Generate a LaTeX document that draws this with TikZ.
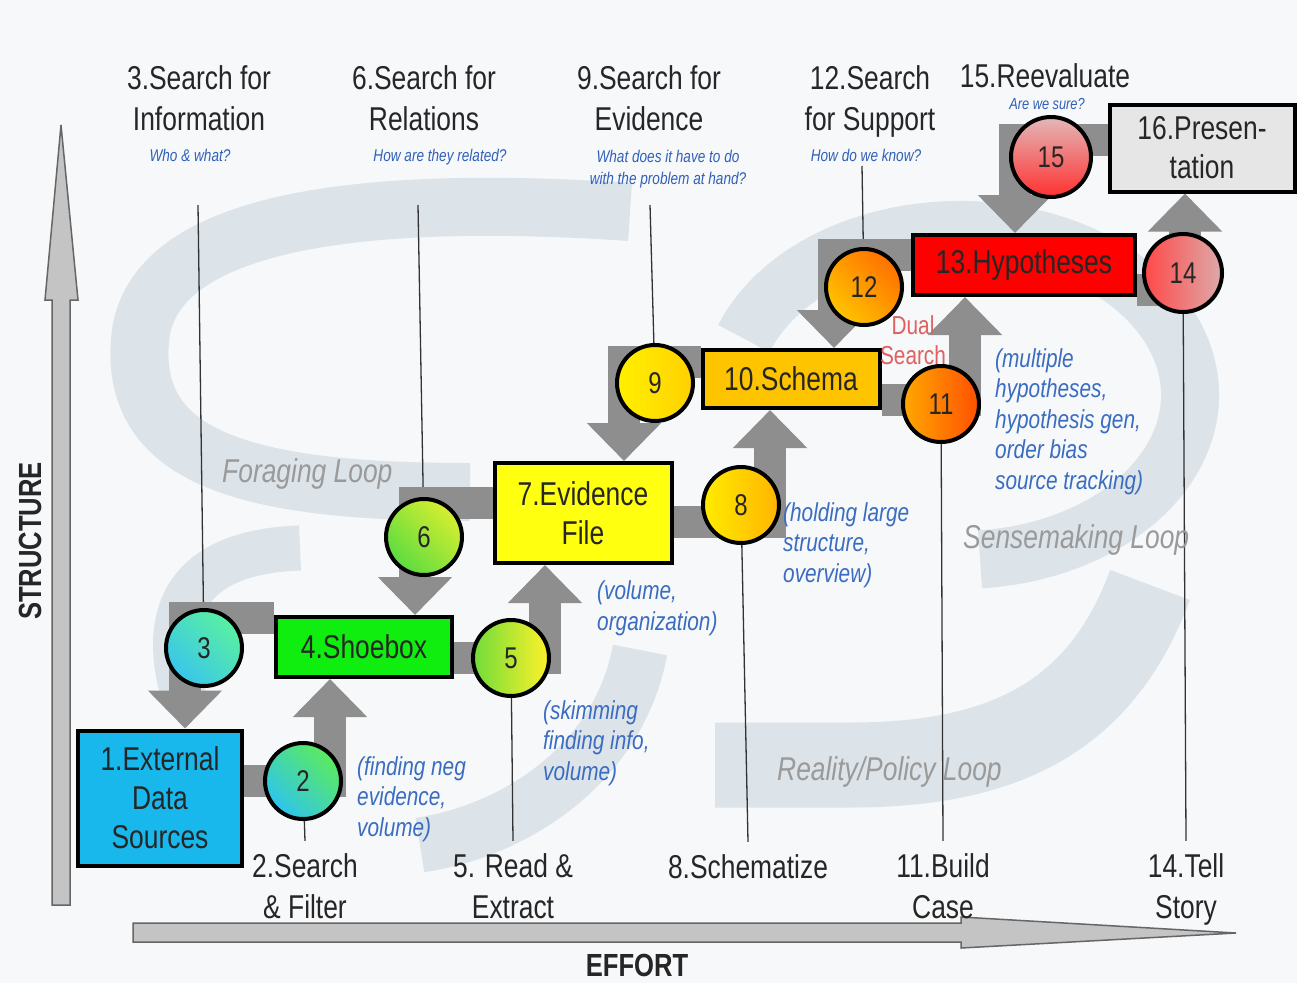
\documentclass[tikz,border=0pt]{standalone}
\usepackage{fontspec}
\setmainfont{Liberation Sans}[FakeStretch=0.8]
\usetikzlibrary{arrows.meta}
\definecolor{bgc}{HTML}{F6F8FA}
\definecolor{swirlc}{HTML}{DCE3E9}
\definecolor{flowgray}{HTML}{8E8E8E}
\definecolor{qblue}{HTML}{3060B8}
\definecolor{nblue}{HTML}{3A6CC0}
\definecolor{loopgray}{HTML}{9A9A9A}
\definecolor{arrowfill}{HTML}{C4C4C4}
\definecolor{dualred}{HTML}{E06060}
\definecolor{cA}{HTML}{18B8EC}
\definecolor{cB}{HTML}{10EE10}
\definecolor{cC}{HTML}{FFFF10}
\definecolor{cD}{HTML}{FFC400}
\definecolor{cE}{HTML}{FF0000}
\definecolor{cF}{HTML}{E6E6E6}
\definecolor{k2t}{HTML}{5CEB5C}\definecolor{k2b}{HTML}{2EC4EE}
\definecolor{k3t}{HTML}{5AF0A0}\definecolor{k3b}{HTML}{38C6EC}
\definecolor{k5t}{HTML}{FFF22A}\definecolor{k5b}{HTML}{70DC3A}
\definecolor{k6t}{HTML}{D8EE30}\definecolor{k6b}{HTML}{5ADC40}
\definecolor{k8t}{HTML}{FFB400}\definecolor{k8b}{HTML}{FFEC00}
\definecolor{k9t}{HTML}{FFD000}\definecolor{k9b}{HTML}{FFF000}
\definecolor{kBt}{HTML}{FF5000}\definecolor{kBb}{HTML}{FFA800}
\definecolor{kCt}{HTML}{FF7000}\definecolor{kCb}{HTML}{FFC400}
\definecolor{kEt}{HTML}{DDAAAA}\definecolor{kEb}{HTML}{FF4848}
\definecolor{kFt}{HTML}{E4B8B8}\definecolor{kFb}{HTML}{FF3030}
\pgfdeclarelayer{bg}
\pgfdeclarelayer{lines}
\pgfdeclarelayer{flows}
\pgfsetlayers{bg,lines,flows,main}
\begin{document}
\begin{tikzpicture}[x=1pt,y=-1pt,
  lbl/.style={font=\fontsize{33}{41}\selectfont, align=center, inner sep=2pt, text=black!85, anchor=base},
  qtext/.style={font=\fontsize{17}{22}\selectfont\itshape, text=qblue, align=center, inner sep=0pt, anchor=base},
  note/.style={font=\fontsize{26}{30.5}\selectfont\itshape, text=nblue, align=left, inner sep=0pt, anchor=base west},
  boxnode/.style={draw=black, line width=4pt, font=\fontsize{33}{39}\selectfont, align=center, inner sep=0pt, text=black!85},
  circnode/.style={circle, draw=black, line width=4pt, minimum size=76pt, inner sep=0pt, font=\fontsize{30}{30}\selectfont, text=black!85},
  flow/.style={draw=flowgray, line width=32pt, -{Triangle[width=72pt,length=38pt]}},
  loopname/.style={font=\fontsize{33}{40}\selectfont\itshape, text=loopgray, anchor=base west, inner sep=0pt},
  thinline/.style={draw=black!80, line width=1.3pt},
  swirl/.style={draw=swirlc, line width=58pt}]
\useasboundingbox (0,0) rectangle (1297,983);

\begin{pgfonlayer}{bg}
\fill[bgc] (0,0) rectangle (1297,983);
% swirls
\draw[swirl] (630,212) .. controls (380,195) and (150,215) .. (140,340) .. controls (130,460) and (250,492) .. (470,492);
\draw[swirl, line width=45pt] (300,548) .. controls (180,552) and (160,620) .. (185,700);
\draw[swirl, line width=55pt] (640,650) .. controls (620,760) and (520,830) .. (420,845);
\draw[swirl] (960,395) ++(200:230 and 165) arc[start angle=200, end angle=445, x radius=230, y radius=165];
\draw[swirl, line width=85pt] (1150,585) .. controls (1100,720) and (1000,765) .. (850,765) -- (715,765);
% axes
\filldraw[fill=arrowfill, draw=black!60, line width=1.5pt] (52,905) -- (52,300) -- (45,300) -- (61,125) -- (78,300) -- (70,300) -- (70,905) -- cycle;
\filldraw[fill=arrowfill, draw=black!60, line width=1.5pt] (133,923) -- (961,923) -- (961,917) -- (1236,933) -- (961,948) -- (961,942) -- (133,942) -- cycle;
\end{pgfonlayer}

% boxes
\node[boxnode, fill=cA, minimum width=164pt, minimum height=135pt] (b1) at (160,798) {1.External\\Data\\Sources};
\node[boxnode, fill=cB, minimum width=176pt, minimum height=60pt] (b4) at (364,647) {4.Shoebox};
\node[boxnode, fill=cC, minimum width=177pt, minimum height=100pt] (b7) at (583,513) {7.Evidence\\File};
\node[boxnode, fill=cD, minimum width=177pt, minimum height=58pt] (b10) at (791,379) {10.Schema};
\node[boxnode, fill=cE, minimum width=222pt, minimum height=60pt] (b13) at (1024,265) {13.Hypotheses};
\node[boxnode, fill=cF, minimum width=185pt, minimum height=87pt] (b16) at (1202,148) {16.Presen-\\tation};

% circles
\node[circnode, top color=k2t, bottom color=k2b, shading angle=-45] (c2) at (303,781) {2};
\node[circnode, top color=k3t, bottom color=k3b, shading angle=-45] (c3) at (204,648) {3};
\node[circnode, top color=k5t, bottom color=k5b, shading angle=-90] (c5) at (511,658) {5};
\node[circnode, top color=k6t, bottom color=k6b, shading angle=-45] (c6) at (424,537) {6};
\node[circnode, top color=k8t, bottom color=k8b, shading angle=-90] (c8) at (741,505) {8};
\node[circnode, top color=k9t, bottom color=k9b, shading angle=-90] (c9) at (655,383) {9};
\node[circnode, top color=kBt, bottom color=kBb, shading angle=-90] (c11) at (941,404) {11};
\node[circnode, top color=kCt, bottom color=kCb, shading angle=-45] (c12) at (864,287) {12};
\node[circnode, minimum size=78pt, top color=kEt, bottom color=kEb, shading angle=-90] (c14) at (1183,273) {14};
\node[circnode, minimum size=80pt, top color=kFt, bottom color=kFb, shading angle=0] (c15) at (1051,157) {15};

% flows
\begin{pgfonlayer}{flows}
\draw[flow] (b1.east |- c2) -| ([xshift=-34pt]b4.south);
\draw[flow] (b4.east |- c5) -| ([xshift=-38pt]b7.south);
\draw[flow] ([yshift=10pt]b7.west) -| ([xshift=51pt]b4.north);
\draw[flow] ([yshift=29pt]b4.west) -| ([xshift=25pt]b1.north);
\draw[flow] ([yshift=-9pt]b7.east) -| ([xshift=-21pt]b10.south);
\draw[flow] ([yshift=17pt]b10.west) -| ([xshift=41pt]b7.north);
\draw[flow] ([yshift=-21pt]b10.east) -| ([xshift=-59pt]b13.south);
\draw[flow] ([yshift=10pt]b13.west) -| ([xshift=43pt]b10.north);
\draw[flow] ([yshift=-25pt]b13.east) -| ([xshift=-17pt]b16.south);
\draw[flow] ([yshift=8pt]b16.west) -| ([xshift=-9pt]b13.north);
\end{pgfonlayer}

% top labels (base = last line)
\node[lbl] (t3) at (199,130) {3.Search for\\Information};
\node[lbl] (t6) at (424,130) {6.Search for\\Relations};
\node[lbl] (t9) at (649,130) {9.Search for\\Evidence};
\node[lbl] (t12) at (870,130) {12.Search\\for Support};
\node[lbl] (t15) at (1045,87) {15.Reevaluate};
\node[qtext] (q3) at (190,161) {Who \& what?};
\node[qtext] (q6) at (440,161) {How are they related?};
\node[qtext] (q9) at (668,184) {What does it have to do\\with the problem at hand?};
\node[qtext] (q12) at (866,161) {How do we know?};
\node[qtext, font=\fontsize{16}{20}\selectfont\itshape] (q15) at (1047,109) {Are we sure?};

% bottom labels
\node[lbl] (lab2) at (305,918) {2.Search\\\& Filter};
\node[lbl] (lab5) at (513,918) {5. Read \&\\Extract};
\node[lbl] (lab8) at (748,878) {8.Schematize};
\node[lbl] (lab11) at (943,918) {11.Build\\Case};
\node[lbl] (lab14) at (1186,918) {14.Tell\\Story};

% thin lines
\coordinate (l3) at (198,205);
\coordinate (l6) at (418,205);
\coordinate (l9) at (650,205);
\coordinate (l12) at (862,166);
\begin{pgfonlayer}{lines}
\draw[thinline] (l3) -- (c3);
\draw[thinline] (l6) -- (c6);
\draw[thinline] (l9) -- (c9);
\draw[thinline] (l12) -- (c12);
\draw[thinline] (c2) -- ([yshift=10pt]lab2.north);
\draw[thinline] (c5) -- ([yshift=10pt]lab5.north);
\draw[thinline] (c8) -- ([yshift=10pt]lab8.north);
\draw[thinline] (c11) -- ([yshift=10pt]lab11.north);
\draw[thinline] (c14) -- ([yshift=10pt]lab14.north);
\end{pgfonlayer}

% notes (base = last line)
\node[note] (n2) at (357,836) {(finding neg\\evidence,\\volume)};
\node[note] (n5) at (543,780) {(skimming\\finding info,\\volume)};
\node[note] (n7) at (597,630) {(volume,\\organization)};
\node[note] (n8) at (783,582) {(holding large\\structure,\\overview)};
\node[note] (n11) at (995,489) {(multiple\\hypotheses,\\hypothesis gen,\\order bias\\source tracking)};
\node[font=\fontsize{26}{30}\selectfont, text=dualred, align=center, inner sep=0pt, anchor=base] (ds) at (913,364) {Dual\\Search};

% loop names
\begin{pgfonlayer}{lines}
\node[loopname] (fl) at (222,482) {Foraging Loop};
\node[loopname] (sl) at (963,548) {Sensemaking Loop};
\node[loopname] (rl) at (777,780) {Reality/Policy Loop};
\end{pgfonlayer}

% axis titles
\node[font=\fontsize{32}{32}\selectfont\bfseries, rotate=90, text=black!85] (st) at (30,541) {STRUCTURE};
\node[font=\fontsize{32}{32}\selectfont\bfseries, anchor=base, inner sep=0pt, text=black!85] (ef) at (637,976) {EFFORT};
\end{tikzpicture}
\end{document}
